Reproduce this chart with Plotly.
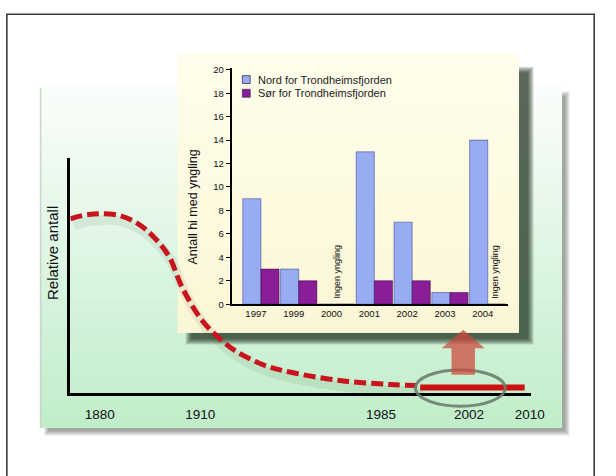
import plotly.graph_objects as go

# ---------------- data ----------------
# Long-term trend (schematic time position 0-100, relative population 0-100)
trend_pos = [0.0, 4.0, 10.2, 14.4, 18.0, 21.4, 24.4, 28.7, 32.9, 35.7,
             42.0, 48.4, 59.0, 69.6, 76.0]
trend_val = [74.2, 76.0, 75.8, 72.5, 66.7, 58.3, 44.6, 30.8, 22.5, 18.3,
             12.1, 8.8, 5.4, 3.8, 3.3]
# Recent, monitored period
recent_pos = [76.0, 98.7]
recent_val = [2.5, 2.5]

axis_years = ["1880", "1910", "1985", "2002", "2010"]
axis_year_pos = [6.4, 28.2, 67.5, 86.6, 99.8]

# Dens with breeding per year
years = ["1997", "1999", "2000", "2001", "2002", "2003", "2004"]
nord = [9, 3, 0, 13, 7, 1, 14]
sor = [3, 2, 0, 2, 2, 1, 0]
no_breeding_years = ["2000", "2004"]

W, H = 616, 476
FONT = "Liberation Sans, Arial"


def px(x):
    return x / W


def py(y):
    return 1 - y / H


def rect(x0, y0, x1, y1, fill, line=None, opacity=1.0, layer="below"):
    return dict(type="rect", xref="paper", yref="paper",
                x0=px(x0), x1=px(x1), y0=py(y1), y1=py(y0),
                fillcolor=fill, opacity=opacity, layer=layer,
                line=line or dict(width=0))


def gradient(x0, y0, x1, y1, c_top, c_bot, n):
    out = []
    mid = tuple((a + b) // 2 for a, b in zip(c_top, c_bot))
    out.append(rect(x0, y0, x1, y1, "rgb(%d,%d,%d)" % mid))
    for i in range(n):
        t = i / (n - 1)
        c = tuple(int(round(c_top[k] + (c_bot[k] - c_top[k]) * t))
                  for k in range(3))
        ya = y0 + (y1 - y0) * i / n
        yb = min(y1, y0 + (y1 - y0) * (i + 1) / n + 1.0)
        out.append(rect(x0, ya, x1, yb, "rgb(%d,%d,%d)" % c))
    return out


shapes = []

# outer frame
shapes.append(dict(type="rect", xref="paper", yref="paper",
                   x0=px(7), x1=px(608), y0=-0.05, y1=py(10.5),
                   line=dict(color="#3a3a3a", width=1.6), layer="below"))

# soft shadow of the green panel
for i in range(6):
    shapes.append(rect(42 + 3 + i, 83 + 6 + i, 575 + 8 - i, 432 + 8 - i,
                       "rgb(40,50,40)", opacity=0.09))

# green panel with vertical gradient
shapes += gradient(42, 83, 575, 432, (251, 253, 250), (192, 238, 202), 40)
shapes.append(dict(type="line", xref="paper", yref="paper",
                   x0=px(41.5), x1=px(41.5), y0=py(432), y1=py(86),
                   line=dict(color="rgba(120,130,120,0.35)", width=1.5),
                   layer="below"))

# inset shadow
for i in range(7):
    shapes.append(rect(182 + 8 + i, 50 + 14 + i, 531 + 15 - i, 335 + 12 - i,
                       "rgb(15,35,15)", opacity=0.15))

# inset box (cream, slight gradient)
shapes += gradient(182, 50, 531, 335, (255, 254, 236), (251, 246, 214), 20)

# highlight ellipse around the monitored period
shapes.append(dict(type="circle", xref="paper", yref="paper",
                   x0=px(425), x1=px(517), y0=py(410), y1=py(373),
                   line=dict(color="rgba(110,125,112,0.9)", width=3),
                   layer="above"))

# upward arrow pointing to the inset
ax0, ax1 = 462, 486
hx0, hx1 = 452, 496
tip_y, head_y, base_y = 332, 351, 378
arrow_path = ("M {a},{b} L {c},{b} L {c},{d} L {e},{d} L {f},{g} "
              "L {h},{d} L {i},{d} L {i},{b} Z").format(
    a=px(ax0), b=py(base_y), c=px(ax1), d=py(head_y), e=px(hx1),
    f=px((hx0 + hx1) / 2), g=py(tip_y), h=px(hx0), i=px(ax0))
shapes.append(dict(type="path", xref="paper", yref="paper", path=arrow_path,
                   fillcolor="rgba(205,70,60,0.72)",
                   line=dict(width=0), layer="above"))

# legend swatches in the inset
legend_items = [("Nord for Trondheimsfjorden", "#98acf4", 77),
                ("Sør for Trondheimsfjorden", "#8a1e98", 91)]
for _, col, yy in legend_items:
    shapes.append(rect(248, yy - 4, 256, yy + 4, col,
                       line=dict(color="#333355", width=0.8), layer="above"))

fig = go.Figure()

# soft shadow under the trend curve
fig.add_trace(go.Scatter(
    x=[p + 0.7 for p in trend_pos], y=[v - 2.6 for v in trend_val],
    mode="lines", line=dict(color="rgba(30,60,30,0.08)", width=10,
                            shape="spline"),
    hoverinfo="skip", showlegend=False, xaxis="x", yaxis="y"))

# trend curve
fig.add_trace(go.Scatter(
    x=trend_pos, y=trend_val, mode="lines",
    line=dict(color="#c8141c", width=5, dash="12px,5px", shape="spline"),
    showlegend=False, xaxis="x", yaxis="y"))
fig.add_trace(go.Scatter(
    x=recent_pos, y=recent_val, mode="lines",
    line=dict(color="#cc1010", width=6),
    showlegend=False, xaxis="x", yaxis="y"))

# inset bars
fig.add_trace(go.Bar(
    x=years, y=nord, name="Nord for Trondheimsfjorden",
    marker=dict(color="#98acf4", line=dict(color="rgba(40,50,130,0.7)",
                                           width=0.7)),
    showlegend=False, xaxis="x2", yaxis="y2"))
fig.add_trace(go.Bar(
    x=years, y=sor, name="Sør for Trondheimsfjorden",
    marker=dict(color="#8a1e98", line=dict(color="rgba(40,0,50,0.7)",
                                           width=0.7)),
    showlegend=False, xaxis="x2", yaxis="y2"))

annotations = []
# main y-axis title
annotations.append(dict(text="Relative antall", xref="paper", yref="paper",
                        x=px(53), y=py(254), xanchor="center",
                        yanchor="middle", showarrow=False, textangle=-90,
                        font=dict(family=FONT, size=15, color="#111")))
# inset y-axis title
annotations.append(dict(text="Antall hi med yngling", xref="paper",
                        yref="paper", x=px(198), y=py(207), xanchor="center",
                        yanchor="middle", showarrow=False, textangle=-90,
                        font=dict(family=FONT, size=12.5, color="#111")))
# inset legend text
for txt, _, yy in legend_items:
    annotations.append(dict(text=txt, xref="paper", yref="paper",
                            x=px(262), y=py(yy), xanchor="left",
                            yanchor="middle", showarrow=False,
                            font=dict(family=FONT, size=11, color="#222")))
# "no breeding" notes
for yr in no_breeding_years:
    shift = 0 if yr == "2000" else 7
    annotations.append(dict(text="Ingen yngling", x=years.index(yr), y=2.75,
                            xref="x2", yref="y2", xshift=shift,
                            xanchor="center", yanchor="middle",
                            showarrow=False, textangle=-90,
                            font=dict(family=FONT, size=9, color="#111")))

fig.update_layout(
    width=W, height=H,
    margin=dict(l=0, r=0, t=0, b=0),
    paper_bgcolor="white", plot_bgcolor="rgba(0,0,0,0)",
    showlegend=False,
    barmode="group", bargap=0.04, bargroupgap=0.0,
    shapes=shapes, annotations=annotations,
    xaxis=dict(domain=[px(72), px(543)], range=[0, 100],
               showline=True, linecolor="black", linewidth=2.5,
               showgrid=False, zeroline=False,
               tickvals=axis_year_pos, ticktext=axis_years,
               ticks="outside", ticklen=7, tickcolor="rgba(0,0,0,0)",
               tickfont=dict(family=FONT, size=13.5, color="#111")),
    yaxis=dict(domain=[py(397), py(157)], range=[0, 100],
               showline=True, linecolor="black", linewidth=2.5,
               showgrid=False, zeroline=False, showticklabels=False),
    xaxis2=dict(domain=[px(237), px(520)], range=[-0.775, 6.54],
                type="category", categoryorder="array", categoryarray=years,
                anchor="y2", showline=True, linecolor="black", linewidth=1.6,
                showgrid=False, zeroline=False, ticks="",
                ticklabelshift=-5,
                tickfont=dict(family=FONT, size=9.5, color="#111")),
    yaxis2=dict(domain=[py(306), py(65)], range=[0, 20.17],
                anchor="x2", showline=True, linecolor="black", linewidth=1.6,
                showgrid=False, zeroline=False,
                tickvals=list(range(0, 21, 2)),
                ticks="outside", ticklen=4, tickwidth=1.2, tickcolor="black",
                tickfont=dict(family=FONT, size=9.5, color="#111")),
)

fig.write_html("out.html")
